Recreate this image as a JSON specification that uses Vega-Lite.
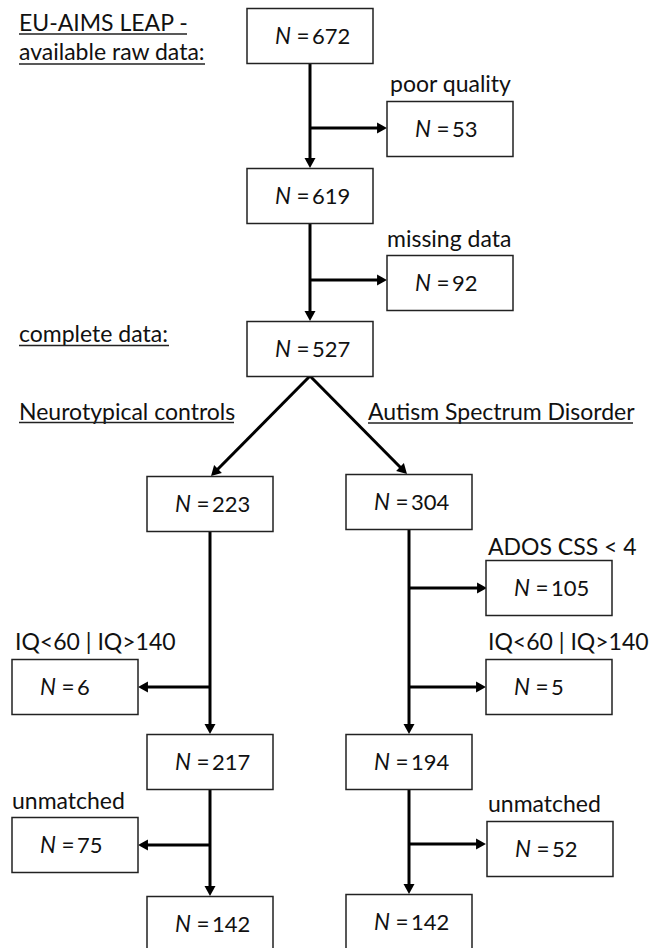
{
  "$schema": "https://vega.github.io/schema/vega-lite/v6.json",
  "width": 655,
  "height": 948,
  "autosize": "none",
  "padding": 0,
  "background": "white",
  "config": {
    "view": {"stroke": null},
    "text": {"font": "Lato", "fontSize": 23, "color": "#111"}
  },
  "datasets": {
    "boxes": [
      {"n": "672", "cx": 310, "cy": 36},
      {"n": "53", "cx": 450, "cy": 129},
      {"n": "619", "cx": 310, "cy": 196},
      {"n": "92", "cx": 450, "cy": 283},
      {"n": "527", "cx": 310, "cy": 349},
      {"n": "223", "cx": 210, "cy": 504},
      {"n": "304", "cx": 409, "cy": 502},
      {"n": "105", "cx": 549, "cy": 588},
      {"n": "6", "cx": 75, "cy": 687},
      {"n": "5", "cx": 549, "cy": 687},
      {"n": "217", "cx": 210, "cy": 762},
      {"n": "194", "cx": 409, "cy": 762},
      {"n": "75", "cx": 75, "cy": 845},
      {"n": "52", "cx": 550, "cy": 849},
      {"n": "142", "cx": 210, "cy": 924},
      {"n": "142", "cx": 409, "cy": 922}
    ],
    "edges": [
      {"x": 310, "y": 63, "x2": 310, "y2": 163, "dir": "down"},
      {"x": 310, "y": 128, "x2": 382, "y2": 128, "dir": "right"},
      {"x": 310, "y": 223, "x2": 310, "y2": 316, "dir": "down"},
      {"x": 310, "y": 280, "x2": 382, "y2": 280, "dir": "right"},
      {"x": 310, "y": 376, "x2": 214.5, "y2": 472.5, "dir": "downleft"},
      {"x": 310, "y": 376, "x2": 403.5, "y2": 470.5, "dir": "downright"},
      {"x": 210, "y": 531, "x2": 210, "y2": 729, "dir": "down"},
      {"x": 210, "y": 687, "x2": 143, "y2": 687, "dir": "left"},
      {"x": 409, "y": 529, "x2": 409, "y2": 729, "dir": "down"},
      {"x": 409, "y": 588, "x2": 482, "y2": 588, "dir": "right"},
      {"x": 409, "y": 687, "x2": 481, "y2": 687, "dir": "right"},
      {"x": 210, "y": 789, "x2": 210, "y2": 891, "dir": "down"},
      {"x": 210, "y": 845, "x2": 143, "y2": 845, "dir": "left"},
      {"x": 409, "y": 789, "x2": 409, "y2": 889, "dir": "down"},
      {"x": 409, "y": 844, "x2": 481, "y2": 844, "dir": "right"}
    ],
    "labels": [
      {"label": "EU-AIMS LEAP -", "x": 19, "y": 31},
      {"label": "available raw data:", "x": 19, "y": 60},
      {"label": "poor quality", "x": 390, "y": 92},
      {"label": "missing data", "x": 387, "y": 247},
      {"label": "complete data:", "x": 19, "y": 342},
      {"label": "Neurotypical controls", "x": 19, "y": 420},
      {"label": "Autism Spectrum Disorder", "x": 368, "y": 420},
      {"label": "ADOS CSS < 4", "x": 488, "y": 555},
      {"label": "IQ<60 | IQ>140", "x": 15, "y": 650},
      {"label": "IQ<60 | IQ>140", "x": 488, "y": 650},
      {"label": "unmatched", "x": 12, "y": 809},
      {"label": "unmatched", "x": 488, "y": 812}
    ],
    "underlines": [
      {"x": 19, "x2": 187, "y": 34},
      {"x": 19, "x2": 205, "y": 64},
      {"x": 19, "x2": 169, "y": 345.5},
      {"x": 19, "x2": 234, "y": 422.5},
      {"x": 368, "x2": 633, "y": 423}
    ]
  },
  "layer": [
    {
      "data": {"name": "edges"},
      "mark": {"type": "rule", "color": "black", "strokeWidth": 3},
      "encoding": {
        "x": {"field": "x", "type": "quantitative", "scale": {"domain": [0, 655], "nice": false, "zero": false}, "axis": null},
        "y": {"field": "y", "type": "quantitative", "scale": {"domain": [0, 948], "nice": false, "zero": false, "reverse": true}, "axis": null},
        "x2": {"field": "x2"},
        "y2": {"field": "y2"}
      }
    },
    {
      "data": {"name": "edges"},
      "mark": {"type": "point", "filled": true, "color": "black", "opacity": 1, "size": 121, "strokeWidth": 0},
      "encoding": {
        "x": {"field": "x2", "type": "quantitative"},
        "y": {"field": "y2", "type": "quantitative"},
        "shape": {
          "field": "dir",
          "type": "nominal",
          "legend": null,
          "scale": {
            "domain": ["down", "right", "left", "downleft", "downright"],
            "range": [
              "M-1,-0.9L1,-0.9L0,0.9Z",
              "M-0.9,-1L-0.9,1L0.9,0Z",
              "M0.9,-1L0.9,1L-0.9,0Z",
              "M1.343,0.071L-0.071,-1.343L-0.636,0.636Z",
              "M0.071,-1.343L-1.343,0.071L0.636,0.636Z"
            ]
          }
        }
      }
    },
    {
      "data": {"name": "boxes"},
      "mark": {"type": "rect", "width": 126, "height": 55, "fill": "white", "stroke": "#222", "strokeWidth": 1.5, "clip": true},
      "encoding": {
        "x": {"field": "cx", "type": "quantitative"},
        "y": {"field": "cy", "type": "quantitative"}
      }
    },
    {
      "data": {"name": "boxes"},
      "mark": {"type": "text", "align": "right", "baseline": "alphabetic", "dx": -19, "dy": 7.5, "fontSize": 22.5, "fontStyle": "italic"},
      "encoding": {
        "x": {"field": "cx", "type": "quantitative"},
        "y": {"field": "cy", "type": "quantitative"},
        "text": {"value": "N"}
      }
    },
    {
      "data": {"name": "boxes"},
      "mark": {"type": "text", "align": "left", "baseline": "alphabetic", "dx": -13.5, "dy": 7.5, "fontSize": 22.5},
      "encoding": {
        "x": {"field": "cx", "type": "quantitative"},
        "y": {"field": "cy", "type": "quantitative"},
        "text": {"value": "="}
      }
    },
    {
      "data": {"name": "boxes"},
      "mark": {"type": "text", "align": "left", "baseline": "alphabetic", "dx": 2, "dy": 7.5, "fontSize": 22},
      "encoding": {
        "x": {"field": "cx", "type": "quantitative"},
        "y": {"field": "cy", "type": "quantitative"},
        "text": {"field": "n", "type": "nominal"}
      }
    },
    {
      "data": {"name": "labels"},
      "mark": {"type": "text", "align": "left", "baseline": "alphabetic"},
      "encoding": {
        "x": {"field": "x", "type": "quantitative"},
        "y": {"field": "y", "type": "quantitative"},
        "text": {"field": "label", "type": "nominal"}
      }
    },
    {
      "data": {"name": "underlines"},
      "mark": {"type": "rule", "color": "#222", "strokeWidth": 1.5},
      "encoding": {
        "x": {"field": "x", "type": "quantitative"},
        "x2": {"field": "x2"},
        "y": {"field": "y", "type": "quantitative"}
      }
    }
  ]
}
